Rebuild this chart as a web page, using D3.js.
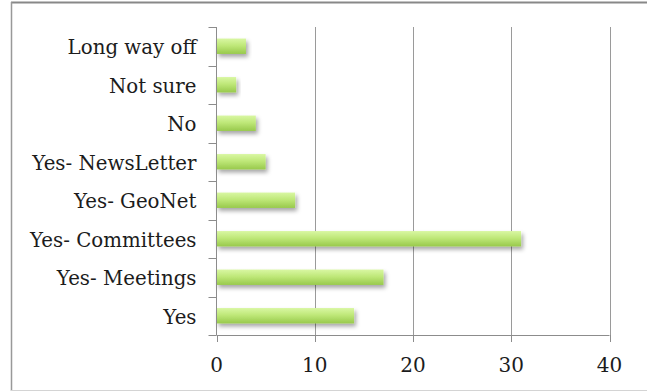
<!DOCTYPE html>
<html>
<head>
<meta charset="utf-8">
<script src="https://cdn.jsdelivr.net/npm/d3@7"></script>
<style>
  html, body { margin: 0; padding: 0; background: #fff; }
  svg { display: block; }
</style>
</head>
<body>
<script>
// Survey responses, listed top to bottom as shown on the chart
const categories = ["Long way off", "Not sure", "No", "Yes- NewsLetter", "Yes- GeoNet", "Yes- Committees", "Yes- Meetings", "Yes"];
const counts = [3, 2, 4, 5, 8, 31, 17, 14];
const xTicks = [0, 10, 20, 30, 40];

const W = 647, H = 392;
const plot = { left: 216.5, right: 609.5, top: 27, bottom: 335 };

const svg = d3.select("body").append("svg").attr("width", W).attr("height", H);

const defs = svg.append("defs");
const grad = defs.append("linearGradient").attr("id", "barFill")
  .attr("x1", 0).attr("y1", 0).attr("x2", 0).attr("y2", 1);
grad.append("stop").attr("offset", "0%").attr("stop-color", "#d9f7a3");
grad.append("stop").attr("offset", "45%").attr("stop-color", "#bfe879");
grad.append("stop").attr("offset", "100%").attr("stop-color", "#98c94c");

const shadow = defs.append("filter").attr("id", "barShadow")
  .attr("x", "-10%").attr("y", "-50%").attr("width", "130%").attr("height", "250%");
shadow.append("feDropShadow").attr("dx", 2).attr("dy", 3).attr("stdDeviation", 2)
  .attr("flood-color", "#000").attr("flood-opacity", 0.35);

// Outer frame: top, left and bottom edges
svg.append("line").attr("x1", 11).attr("x2", W).attr("y1", 2.5).attr("y2", 2.5)
  .attr("stroke", "#888").attr("stroke-width", 2);
svg.append("line").attr("x1", 11.5).attr("x2", 11.5).attr("y1", 2).attr("y2", 391)
  .attr("stroke", "#999").attr("stroke-width", 1.5);
svg.append("line").attr("x1", 11).attr("x2", W).attr("y1", 390.5).attr("y2", 390.5)
  .attr("stroke", "#d4d4d4").attr("stroke-width", 1);

const x = d3.scaleLinear().domain([0, 40]).range([plot.left, plot.right]);
const y = d3.scaleBand().domain(categories).range([plot.top, plot.bottom])
  .paddingInner(0.6).paddingOuter(0.3);

// Vertical gridlines
svg.append("g").selectAll("line").data(xTicks.filter(d => d > 0)).join("line")
  .attr("x1", d => Math.round(x(d)) + 0.5).attr("x2", d => Math.round(x(d)) + 0.5)
  .attr("y1", plot.top).attr("y2", plot.bottom)
  .attr("stroke", "#9a9a9a").attr("stroke-width", 1);

// Bars
svg.append("g").selectAll("rect").data(categories).join("rect")
  .attr("x", x(0))
  .attr("y", d => y(d))
  .attr("width", (d, i) => x(counts[i]) - x(0))
  .attr("height", y.bandwidth())
  .attr("fill", "url(#barFill)")
  .attr("filter", "url(#barShadow)");

// Category axis: line plus ticks on band boundaries
const step = y.step();
const bounds = d3.range(categories.length + 1).map(i => plot.top + i * step);
const yAxis = svg.append("g");
yAxis.append("line").attr("x1", x(0)).attr("x2", x(0))
  .attr("y1", plot.top).attr("y2", plot.bottom)
  .attr("stroke", "#8c8c8c").attr("stroke-width", 1);
yAxis.selectAll("line.tick").data(bounds).join("line").attr("class", "tick")
  .attr("x1", x(0) - 8).attr("x2", x(0))
  .attr("y1", d => Math.round(d) + 0.5).attr("y2", d => Math.round(d) + 0.5)
  .attr("stroke", "#8c8c8c").attr("stroke-width", 1);
yAxis.selectAll("text").data(categories).join("text")
  .attr("x", x(0) - 20)
  .attr("y", d => y(d) + y.bandwidth() / 2)
  .attr("dy", "0.4em")
  .attr("text-anchor", "end")
  .attr("font-family", "'DejaVu Serif', serif")
  .attr("font-size", 19.8)
  .attr("fill", "#1c1c1c")
  .text(d => d);

// Value axis
const xAxis = svg.append("g");
xAxis.append("line").attr("x1", x(0)).attr("x2", x(40))
  .attr("y1", plot.bottom + 0.5).attr("y2", plot.bottom + 0.5)
  .attr("stroke", "#8c8c8c").attr("stroke-width", 1);
xAxis.selectAll("line.tick").data(xTicks).join("line").attr("class", "tick")
  .attr("x1", d => Math.round(x(d)) + 0.5).attr("x2", d => Math.round(x(d)) + 0.5)
  .attr("y1", plot.bottom).attr("y2", plot.bottom + 7)
  .attr("stroke", "#8c8c8c").attr("stroke-width", 1);
xAxis.selectAll("text").data(xTicks).join("text")
  .attr("x", d => x(d))
  .attr("y", 372)
  .attr("text-anchor", "middle")
  .attr("font-family", "'DejaVu Serif', serif")
  .attr("font-size", 20)
  .attr("fill", "#1c1c1c")
  .text(d => d);
</script>
</body>
</html>
